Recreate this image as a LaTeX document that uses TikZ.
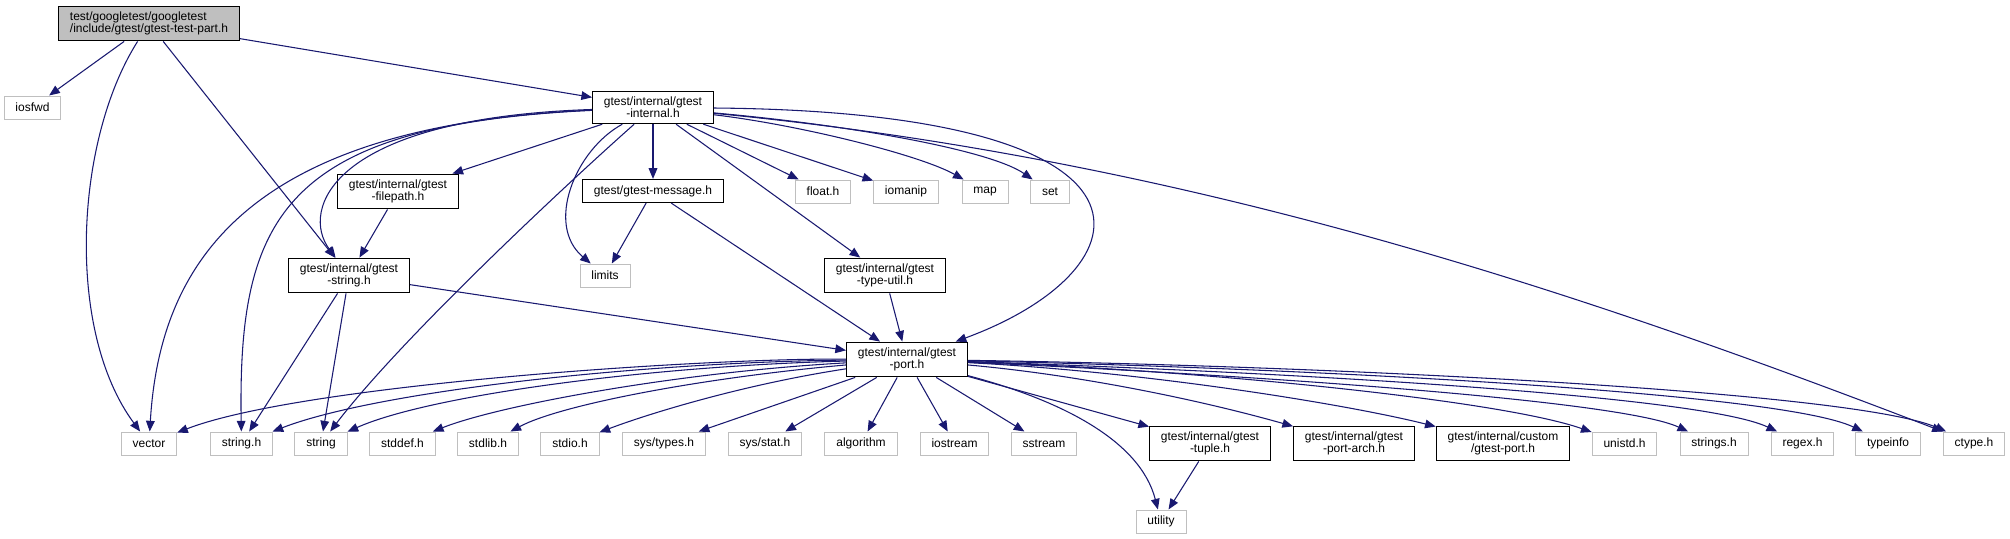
\documentclass[tikz,border=0pt]{standalone}
\usepackage{fontspec}
\setmainfont{Liberation Sans}
\usepackage{tikz}
\usetikzlibrary{arrows.meta}
\usepackage{xcolor}
\definecolor{edgeblue}{RGB}{25,25,112}
\definecolor{sysgray}{RGB}{191,191,191}

\begin{document}
\begin{tikzpicture}[x=0.75pt,y=-0.75pt,
    file/.style={draw=black,line width=0.9pt,fill=white,font=\fontsize{9}{8.8}\selectfont,
      align=center,inner xsep=8.5pt,inner ysep=4.4pt,minimum height=17.25pt},
    sysfile/.style={file,draw=sysgray,line width=0.75pt},
    rootfile/.style={file,fill=sysgray,align=left},
    dep/.style={edgeblue,line width=0.8pt,-{Triangle[length=8pt,width=6.5pt]}}]
        \useasboundingbox (0,0) rectangle (2010,539);
        \node[rootfile] (root) at (149,23.5) {test/googletest/googletest\\/include/gtest/gtest-test-part.h};
        \node[sysfile] (iosfwd) at (32.5,107.5) {iosfwd};
        \node[file] (internal) at (653,107.5) {gtest/internal/gtest\\-internal.h};
        \node[file] (filepath) at (398,191.5) {gtest/internal/gtest\\-filepath.h};
        \node[file] (message) at (653,191) {gtest/gtest-message.h};
        \foreach \nm/\x/\txt in {floath/823/float.h,iomanip/906/iomanip,map/985/map,set/1050/set}
          \node[sysfile] (\nm) at (\x,191.5) {\txt};
        \node[file] (gstring) at (349,275.5) {gtest/internal/gtest\\-string.h};
        \node[sysfile] (limits) at (605,275.5) {limits};
        \node[file] (typeutil) at (885,275.5) {gtest/internal/gtest\\-type-util.h};
        \node[file] (port) at (907,359.5) {gtest/internal/gtest\\-port.h};
        % bottom row
        \foreach \nm/\x in {vector/149,string/321,algorithm/861,iostream/954.5,sstream/1044,typeinfo/1888}
          \node[sysfile] (\nm) at (\x,443.5) {\nm};
        \foreach \nm/\x/\txt in {stringh/241.5/string.h,stddef/402.5/stddef.h,stdlib/488/stdlib.h,
            stdio/570/stdio.h,unistd/1624.5/unistd.h,strings/1714/strings.h,regex/1802.5/regex.h,ctype/1974/ctype.h}
          \node[sysfile] (\nm) at (\x,443.5) {\txt};
        \node[sysfile] (systypes) at (664,443.5) {sys/types.h};
        \node[sysfile] (sysstat) at (765,443.5) {sys/stat.h};
        \node[file] (tuple) at (1210,443.5) {gtest/internal/gtest\\-tuple.h};
        \node[file] (portarch) at (1354,443.5) {gtest/internal/gtest\\-port-arch.h};
        \node[file] (custom) at (1503,443.5) {gtest/internal/custom\\/gtest-port.h};
        \node[sysfile] (utility) at (1161,521.5) {utility};
        % root
        \draw[dep] (root) -- (iosfwd);
        \draw[dep] (root) .. controls (75,140) and (65,330) .. (vector);
        \draw[dep] (root) -- (gstring);
        \draw[dep] (root) -- (internal);
        % gtest-internal.h
        \draw[dep] (internal) .. controls (250,125) and (160,260) .. (vector);
        \draw[dep] (internal) .. controls (280,125) and (238,220) .. (stringh);
        \draw[dep] (internal) .. controls (330,118) and (300,210) .. (gstring);
        \draw[dep] (internal) .. controls (560,190) and (400,340) .. (string);
        \draw[dep] (internal) .. controls (575,150) and (545,225) .. (limits);
        \draw[dep] (internal) .. controls (800,125) and (920,155) .. (map);
        \draw[dep] (internal) .. controls (850,125) and (990,150) .. (set);
        \draw[dep] (internal) .. controls (1190,112) and (1150,270) .. (port);
        \draw[dep] (internal) .. controls (1200,160) and (1600,300) .. (ctype);
        \foreach \t in {filepath,message,floath,iomanip,typeutil}
          \draw[dep] (internal) -- (\t);
        \draw[dep] (filepath) -- (gstring);
        \draw[dep] (message) -- (limits);
        \draw[dep] (message) -- (port);
        \draw[dep] (typeutil) -- (port);
        \foreach \t in {stringh,string,port}
          \draw[dep] (gstring) -- (\t);
        % gtest-port.h
        \draw[dep] (port) .. controls (700,358) and (300,385) .. (vector);
        \draw[dep] (port) .. controls (650,362) and (380,390) .. (stringh);
        \draw[dep] (port) .. controls (650,366) and (430,395) .. (string);
        \draw[dep] (port) .. controls (680,372) and (500,405) .. (stddef);
        \draw[dep] (port) .. controls (700,378) and (560,405) .. (stdlib);
        \draw[dep] (port) .. controls (740,385) and (645,415) .. (stdio);
        \foreach \t in {systypes,sysstat,algorithm,iostream,sstream,tuple}
          \draw[dep] (port) -- (\t);
        \draw[dep] (port) .. controls (1060,400) and (1140,440) .. (utility);
        \draw[dep] (port) .. controls (1080,375) and (1200,400) .. (portarch);
        \draw[dep] (port) .. controls (1150,372) and (1350,405) .. (custom);
        \draw[dep] (port) .. controls (1200,370) and (1500,400) .. (unistd);
        \draw[dep] (port) .. controls (1250,375) and (1620,400) .. (strings);
        \draw[dep] (port) .. controls (1280,372) and (1700,395) .. (regex);
        \draw[dep] (port) .. controls (1300,368) and (1780,392) .. (typeinfo);
        \draw[dep] (port) .. controls (1300,365) and (1850,390) .. (ctype);
        \draw[dep] (tuple) -- (utility);
      \end{tikzpicture}
\end{document}
